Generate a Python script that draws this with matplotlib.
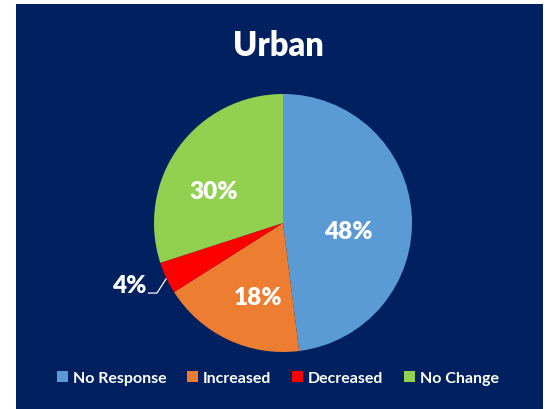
import matplotlib.pyplot as plt
from matplotlib.patches import Rectangle, Patch

categories = ["No Response", "Increased", "Decreased", "No Change"]
shares = [48, 18, 4, 30]
colors = ["#5B9BD5", "#ED7D31", "#FF0000", "#92D050"]

# label anchor points inside the unit pie (x, y)
label_pos = [(0.51, -0.06), (-0.19, -0.57), (-1.19, -0.48), (-0.54, 0.25)]

plt.rcParams["font.family"] = ["Lato", "DejaVu Sans"]

fig = plt.figure(figsize=(5.5, 4.1), dpi=100, facecolor="white")

# navy panel behind everything
bg = fig.add_axes([0, 0, 1, 1], zorder=-1)
bg.add_patch(Rectangle((16 / 550, 0), 527 / 550, 405 / 410,
                       facecolor="#002060", edgecolor="none"))
bg.set_xlim(0, 1)
bg.set_ylim(0, 1)
bg.axis("off")

ax = fig.add_axes([154 / 550, 57 / 410, 258 / 550, 258 / 410])
ax.pie(shares, colors=colors, startangle=90, counterclock=False,
       wedgeprops=dict(linewidth=0))
ax.set_xlim(-1, 1)
ax.set_ylim(-1, 1)
ax.set_aspect("equal")
ax.axis("off")

for val, (x, y) in zip(shares, label_pos):
    ax.text(x, y, f"{val}%", color="white", fontsize=17.5, fontweight="heavy",
            ha="center", va="center", clip_on=False)

# leader line for the small slice
ax.plot([-1.043, -0.977, -0.907], [-0.543, -0.543, -0.434], color="white",
        lw=0.9, clip_on=False)

fig.text(278 / 550, 1 - 46 / 410, "Urban", color="white", fontsize=23.5,
         fontweight="heavy", ha="center", va="center")

handles = [Patch(facecolor=c, edgecolor="none") for c in colors]
leg = fig.legend(handles, categories, loc="center", ncol=4,
                 bbox_to_anchor=(278 / 550, 1 - 379 / 410), frameon=False,
                 handlelength=0.7, handleheight=0.7, handletextpad=0.3,
                 columnspacing=1.3, prop=dict(size=11.5, weight="bold"))
for t in leg.get_texts():
    t.set_color("white")

fig.savefig("out.png", dpi=100, facecolor="white")
